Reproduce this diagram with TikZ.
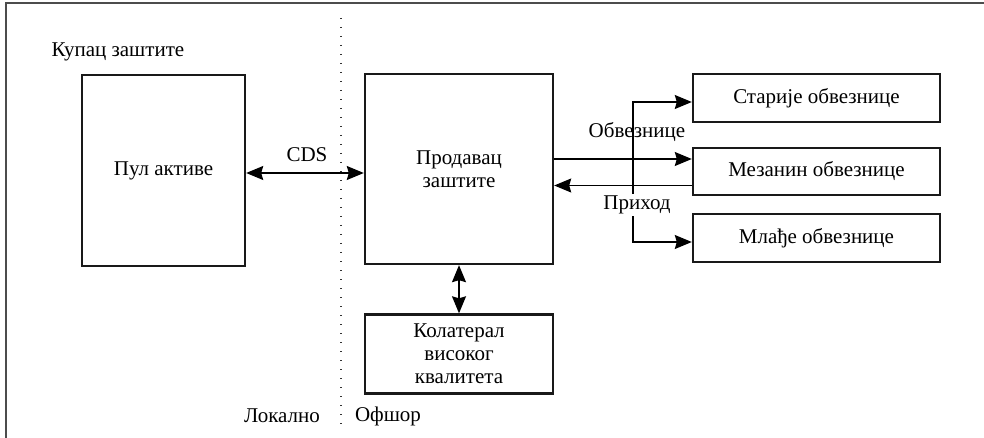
\documentclass[tikz,border=0pt]{standalone}
\usepackage{fontspec}
\setmainfont{Liberation Serif}
\usetikzlibrary{arrows.meta}
\begin{document}
\begin{tikzpicture}[x=1pt,y=-1pt,
  every node/.style={font=\fontsize{21}{23}\selectfont},
  boxnode/.style={draw=black!90, line width=2.4pt, inner sep=0pt, align=center},
  tipstyle/.style={},
  arr/.style={line width=1.3pt, -{Stealth[length=17pt,width=14pt,inset=2pt]}},
  dblarr/.style={line width=1.3pt, {Stealth[length=17pt,width=14pt,inset=2pt]}-{Stealth[length=17pt,width=14pt,inset=2pt]}},
  frameline/.style={draw=black!70, line width=1.4pt},
  lbl/.style={inner sep=1pt}
]
\useasboundingbox (0,0) rectangle (984,438);
% frame
\draw[frameline] (6,438) -- (6,3) -- (984,3);
% dotted divider
\draw[line width=1.4pt, dash pattern=on 1.4pt off 7.6pt, black!80] (341,18) -- (341,428);

% boxes
\node[boxnode, minimum width=163pt, minimum height=191pt] (pool) at (163.5,170.5) {Пул активе};
\node[boxnode, minimum width=188pt, minimum height=190pt] (seller) at (459,169) {Продавац\\заштите};
\node[boxnode, minimum width=188pt, minimum height=79pt] (coll) at (459,354) {Колатерал\\високог\\квалитета};
\node[boxnode, minimum width=247pt, minimum height=48pt] (senior) at (816.5,98) {Старије обвезнице};
\node[boxnode, minimum width=247pt, minimum height=47pt] (mezz) at (816.5,171.5) {Мезанин обвезнице};
\node[boxnode, minimum width=247pt, minimum height=48pt] (junior) at (816.5,238) {Млађе обвезнице};

% labels
\node[lbl] (buyer) at (118,52) {Купац заштите};
\node[lbl] (local) at (282,416) {Локално};
\node[lbl] (offshore) at (388,416) {Офшор};

% CDS
\draw[dblarr] ([yshift=-2.5pt]pool.east) -- ([yshift=-2.5pt]pool.east -| seller.west);
\node[lbl] (cds) at (307,155) {CDS};

% collateral
\draw[dblarr] (seller.south) -- (coll.north);

% bonds / income
\draw[arr] ([yshift=10pt]seller.east) -- ([yshift=10pt]seller.east -| mezz.west);
\draw[arr] ([yshift=-14pt]mezz.west) -- ([yshift=-14pt]mezz.west -| seller.east);

% branch
\coordinate (bx) at (633,170);
\draw[dblarr] ([yshift=-4pt]senior.west) -| (bx) |- ([yshift=-4pt]junior.west);
\node[lbl] (bonds) at (637,132) {Обвезнице};
\node[lbl, fill=white, inner sep=2pt] (income) at (637,205) {Приход};
\end{tikzpicture}
\end{document}
